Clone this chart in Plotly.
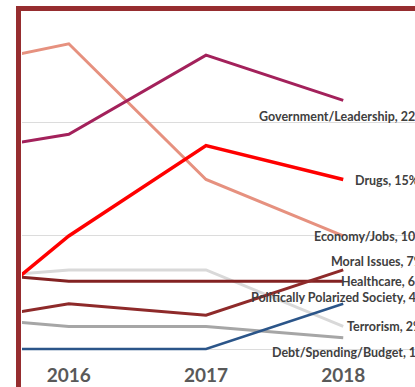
import plotly.graph_objects as go

years = [2015, 2016, 2017, 2018]
tick_years = [2016, 2017, 2018]
tick_labels = ["2016", "2017", "2018"]

series_names = [
    "Terrorism",
    "Debt/Spending/Budget",
    "Politically Polarized Society",
    "Healthcare",
    "Moral Issues",
    "Economy/Jobs",
    "Drugs",
    "Government/Leadership",
]
terrorism = [6, 7, 7, 2]
debt = [3, 2, 2, 1]
polarized = [0, 0, 0, 4]
healthcare = [7, 6, 6, 6]
moral = [2, 4, 3, 7]
economy = [24.5, 27, 15, 10]
drugs = [0, 10, 18, 15]
government = [17, 19, 26, 22]

values = [terrorism, debt, polarized, healthcare, moral, economy, drugs, government]
colors = ["#D9D9D9", "#A6A6A6", "#2B5589", "#832222", "#8E2A2A", "#E6917F", "#FF0000", "#A3215B"]
widths = [3, 3, 2.5, 3, 3, 3, 3.5, 3]
# label offsets in pixels relative to the 2018 point (styling only)
label_shift = {
    "Terrorism": (2, 0),
    "Debt/Spending/Budget": (-73, -15),
    "Politically Polarized Society": (-94, 6),
    "Healthcare": (-4, 0),
    "Moral Issues": (-14, 8),
    "Economy/Jobs": (-31, -1),
    "Drugs": (10, -1),
    "Government/Leadership": (-86, -16),
}

fig = go.Figure()
for name, vals, col, w in zip(series_names, values, colors, widths):
    fig.add_trace(go.Scatter(x=years, y=vals, mode="lines", name=name,
                             line=dict(color=col, width=w), hoverinfo="skip"))

annotations = []
for name, vals in zip(series_names, values):
    dx, dy = label_shift[name]
    annotations.append(dict(
        x=years[-1], y=vals[-1], xref="x", yref="y",
        text=f"<b>{name}, {vals[-1]:g}%</b>", showarrow=False,
        xanchor="left", yanchor="middle", xshift=dx, yshift=dy,
        font=dict(family="Lato", size=12.5, color="#404040"),
    ))

fig.update_layout(
    width=415, height=387,
    margin=dict(l=22, r=0, t=11, b=27),
    paper_bgcolor="white", plot_bgcolor="white",
    showlegend=False,
    hovermode=False,
    annotations=annotations,
    xaxis=dict(range=[2015.659, 2018.523], tickvals=tick_years, ticktext=tick_labels,
               showgrid=False, zeroline=False, showline=False, ticks="",
               tickfont=dict(family="Lato", size=19, color="#595959", weight="bold"),
               ticklabelstandoff=2),
    yaxis=dict(range=[-0.97, 29.9], tickvals=[0, 10, 20], showticklabels=False,
               showgrid=True, gridcolor="#DCDCDC", gridwidth=1, zeroline=False,
               showline=False, ticks=""),
    shapes=[dict(type="rect", xref="paper", yref="paper",
                 x0=-3.5 / 393, x1=1.2, y0=-0.5, y1=1 + 2.5 / 349,
                 line=dict(color="#962D2F", width=5), layer="above")],
)

fig.write_html(
    "out.html",
    config={"displayModeBar": False},
    post_script="document.body.style.margin='0';document.body.style.overflow='hidden';",
)
